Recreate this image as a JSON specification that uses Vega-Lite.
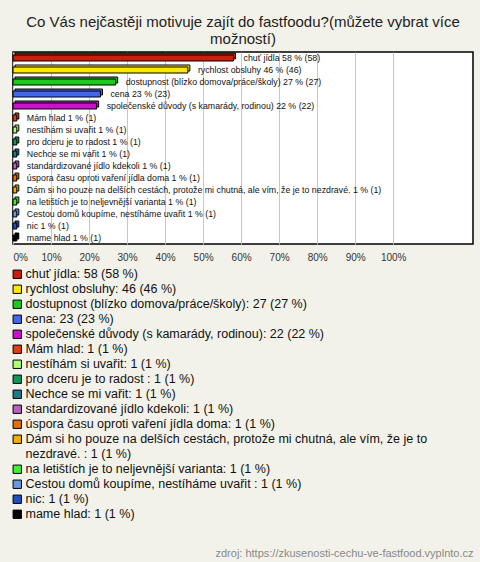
{
  "$schema": "https://vega.github.io/schema/vega-lite/v6.json",
  "width": 460,
  "height": 192,
  "padding": {"left": 11, "top": 15, "right": 9, "bottom": 5},
  "background": "#f3f2ea",
  "title": {
    "text": ["Co Vás nejčastěji motivuje zajít do fastfoodu?(můžete vybrat více", "možností)"],
    "anchor": "middle",
    "font": "Liberation Sans",
    "fontSize": 15,
    "fontWeight": "normal",
    "color": "#222222",
    "lineHeight": 17,
    "offset": 5
  },
  "config": {
    "view": {"fill": "white", "stroke": "black", "strokeWidth": 1.5},
    "font": "Liberation Sans"
  },
  "data": {
    "values": [
      {"label": "chuť jídla 58 % (58)", "legend": "chuť jídla: 58 (58 %)", "pct": 58},
      {"label": "rychlost obsluhy 46 % (46)", "legend": "rychlost obsluhy: 46 (46 %)", "pct": 46},
      {"label": "dostupnost (blízko domova/práce/školy) 27 % (27)", "legend": "dostupnost (blízko domova/práce/školy): 27 (27 %)", "pct": 27},
      {"label": "cena 23 % (23)", "legend": "cena: 23 (23 %)", "pct": 23},
      {"label": "společenské důvody (s kamarády, rodinou) 22 % (22)", "legend": "společenské důvody (s kamarády, rodinou): 22 (22 %)", "pct": 22},
      {"label": "Mám hlad 1 % (1)", "legend": "Mám hlad: 1 (1 %)", "pct": 1},
      {"label": "nestíhám si uvařit 1 % (1)", "legend": "nestíhám si uvařit: 1 (1 %)", "pct": 1},
      {"label": "pro dceru je to radost  1 % (1)", "legend": "pro dceru je to radost : 1 (1 %)", "pct": 1},
      {"label": "Nechce se mi vařit 1 % (1)", "legend": "Nechce se mi vařit: 1 (1 %)", "pct": 1},
      {"label": "standardizované jídlo kdekoli 1 % (1)", "legend": "standardizované jídlo kdekoli: 1 (1 %)", "pct": 1},
      {"label": "úspora času oproti vaření jídla doma 1 % (1)", "legend": "úspora času oproti vaření jídla doma: 1 (1 %)", "pct": 1},
      {"label": "Dám si ho pouze na delších cestách, protože mi chutná, ale vím, že je to nezdravé.  1 % (1)", "legend": "Dám si ho pouze na delších cestách, protože mi chutná, ale vím, že je to nezdravé. : 1 (1 %)", "pct": 1},
      {"label": "na letištích je to neljevnější varianta 1 % (1)", "legend": "na letištích je to neljevnější varianta: 1 (1 %)", "pct": 1},
      {"label": "Cestou domů koupíme, nestíháme uvařit  1 % (1)", "legend": "Cestou domů koupíme, nestíháme uvařit : 1 (1 %)", "pct": 1},
      {"label": "nic 1 % (1)", "legend": "nic: 1 (1 %)", "pct": 1},
      {"label": "mame hlad 1 % (1)", "legend": "mame hlad: 1 (1 %)", "pct": 1}
    ]
  },
  "encoding": {
    "y": {
      "field": "label",
      "type": "nominal",
      "sort": null,
      "axis": null,
      "scale": {"paddingInner": 0.5, "paddingOuter": 0.25}
    },
    "x": {
      "field": "pct",
      "type": "quantitative",
      "scale": {"domain": [0, 121], "nice": false, "zero": true},
      "axis": {
        "values": [0, 10, 20, 30, 40, 50, 60, 70, 80, 90, 100],
        "labelExpr": "datum.value + '%'",
        "grid": true,
        "gridColor": "#c8c8c8",
        "gridWidth": 1,
        "ticks": false,
        "domain": false,
        "labelFlush": true,
        "labelFontSize": 10,
        "labelColor": "#333333",
        "labelPadding": 8,
        "title": "zdroj: https://zkusenosti-cechu-ve-fastfood.vyplnto.cz",
        "titleFontSize": 11,
        "titleFontWeight": "normal",
        "titleColor": "#888888",
        "titleAlign": "right",
        "titleAnchor": null,
        "titleX": 460,
        "titleY": 309,
        "titleBaseline": "middle"
      }
    }
  },
  "layer": [
    {
      "mark": {"type": "bar", "stroke": "black", "strokeWidth": 1, "xOffset": 2, "yOffset": -2},
      "encoding": {
        "color": {
          "field": "legend",
          "type": "nominal",
          "scale": {
            "domain": ["chuť jídla: 58 (58 %)", "rychlost obsluhy: 46 (46 %)", "dostupnost (blízko domova/práce/školy): 27 (27 %)", "cena: 23 (23 %)", "společenské důvody (s kamarády, rodinou): 22 (22 %)", "Mám hlad: 1 (1 %)", "nestíhám si uvařit: 1 (1 %)", "pro dceru je to radost : 1 (1 %)", "Nechce se mi vařit: 1 (1 %)", "standardizované jídlo kdekoli: 1 (1 %)", "úspora času oproti vaření jídla doma: 1 (1 %)", "Dám si ho pouze na delších cestách, protože mi chutná, ale vím, že je to nezdravé. : 1 (1 %)", "na letištích je to neljevnější varianta: 1 (1 %)", "Cestou domů koupíme, nestíháme uvařit : 1 (1 %)", "nic: 1 (1 %)", "mame hlad: 1 (1 %)"],
            "range": ["#c8200c", "#ffe800", "#1ec81e", "#4466ee", "#c814c8", "#e04010", "#b0ff70", "#109858", "#207888", "#b860c0", "#e07010", "#f0b000", "#40f030", "#6898e0", "#2050c0", "#000000"]
          },
          "legend": {
            "orient": "none",
            "legendX": -2,
            "legendY": 216,
            "title": null,
            "symbolType": "square",
            "symbolSize": 70,
            "symbolStrokeColor": "black",
            "symbolStrokeWidth": 1,
            "symbolOpacity": 1,
            "labelFontSize": 12.5,
            "labelColor": "#111111",
            "labelLimit": 470,
            "labelOffset": 2,
            "rowPadding": 2,
            "labelExpr": "indexof(datum.label, 'nezdravé') >= 0 ? ['Dám si ho pouze na delších cestách, protože mi chutná, ale vím, že je to', 'nezdravé. : 1 (1 %)'] : datum.label"
          }
        }
      }
    },
    {
      "mark": {"type": "bar", "stroke": "black", "strokeWidth": 1},
      "encoding": {
        "color": {"field": "legend", "type": "nominal"}
      }
    },
    {
      "mark": {"type": "text", "align": "left", "baseline": "middle", "dx": 10, "fontSize": 8.8, "color": "#111111"},
      "encoding": {
        "text": {"field": "label"}
      }
    }
  ]
}
